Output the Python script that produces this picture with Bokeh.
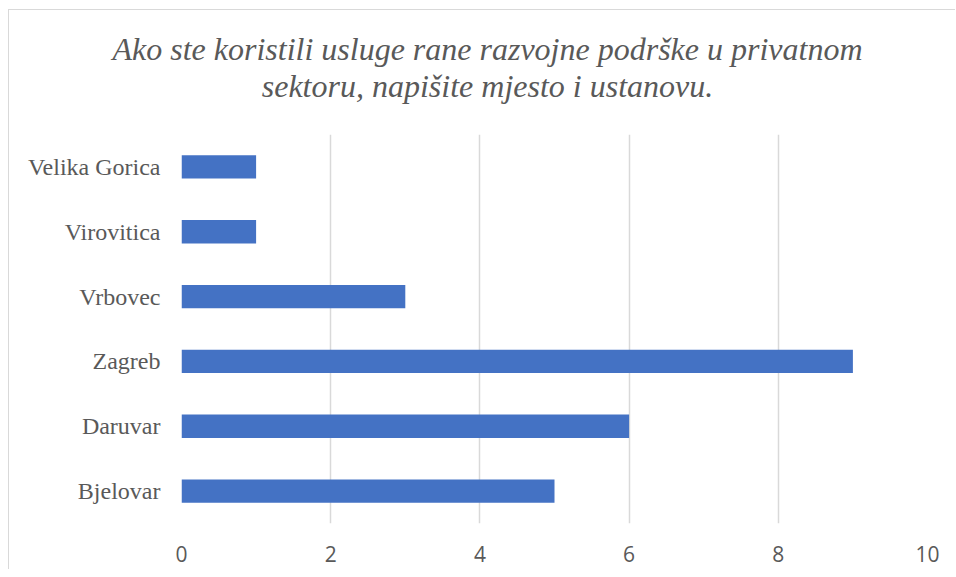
from bokeh.plotting import figure
from bokeh.layouts import column
from bokeh.models import FactorRange, Range1d, FixedTicker, ColumnDataSource
from bokeh.core.properties import value
from bokeh.embed import file_html
from bokeh.resources import INLINE

# Data (bottom to top)
categories = ["Bjelovar", "Daruvar", "Zagreb", "Vrbovec", "Virovitica", "Velika Gorica"]
counts = [5, 6, 9, 3, 1, 1]
x_ticks = [0, 2, 4, 6, 8, 10]
title_lines = ["Ako ste koristili usluge rane razvojne podrške u privatnom",
               "sektoru, napišite mjesto i ustanovu."]

W = 946
TITLE_H = 110
CHART_H = 449

# ---- title strip (pixel-space figure) ----
tf = figure(width=W, height=TITLE_H, x_range=Range1d(0, W), y_range=Range1d(TITLE_H, 0),
            output_backend="svg", toolbar_location=None,
            min_border=0, min_border_left=0, min_border_right=0,
            min_border_top=0, min_border_bottom=0)
tf.axis.visible = False
tf.grid.visible = False
tf.outline_line_color = None
tf.background_fill_alpha = 0
tf.border_fill_alpha = 0
tsrc = ColumnDataSource(data=dict(x=[478, 478], y=[38, 75], text=title_lines))
tf.text(x="x", y="y", text="text", source=tsrc, text_align="center",
        text_baseline="alphabetic", text_font=value("Liberation Serif"),
        text_font_style="italic", text_font_size="32px", text_color="#595959")

# ---- bar chart ----
source = ColumnDataSource(data=dict(cat=categories, val=counts))
p = figure(
    width=W, height=CHART_H,
    y_range=FactorRange(factors=categories),
    x_range=Range1d(0, 10),
    output_backend="svg", toolbar_location=None,
    min_border_left=172, min_border_right=28, min_border_top=14, min_border_bottom=46,
)
p.hbar(y="cat", right="val", left=0, height=0.36, source=source,
       fill_color="#4472C4", line_color=None)

p.outline_line_color = None
p.background_fill_color = "white"
p.border_fill_color = "white"

p.xaxis.ticker = FixedTicker(ticks=x_ticks)
p.xaxis.axis_line_color = None
p.xaxis.major_tick_line_color = None
p.xaxis.minor_tick_line_color = None
p.xaxis.major_label_text_font = "Open Sans"
p.xaxis.major_label_text_font_size = "21px"
p.xaxis.major_label_text_color = "#595959"
p.xaxis.major_label_standoff = 16

p.yaxis.axis_line_color = None
p.yaxis.major_tick_line_color = None
p.yaxis.minor_tick_line_color = None
p.yaxis.major_label_text_font = "Liberation Serif"
p.yaxis.major_label_text_font_size = "24px"
p.yaxis.major_label_text_color = "#595959"
p.yaxis.major_label_standoff = 15

p.xgrid.ticker = FixedTicker(ticks=x_ticks)
p.xgrid.grid_line_color = "#d9d9d9"
p.xgrid.grid_line_width = 1.5
p.ygrid.grid_line_color = None

# keep the title strip's frame independent of the chart's frame
for fig in (tf, p):
    try:
        fig.frame_align = False
    except Exception:
        pass

layout = column(tf, p, spacing=0, styles={
    "border-left": "1px solid #d9d9d9",
    "border-top": "1px solid #d9d9d9",
    "margin-left": "8px",
    "margin-top": "9px",
    "overflow": "hidden",
    "background": "white",
})

open("out.html", "w").write(file_html(layout, INLINE))
